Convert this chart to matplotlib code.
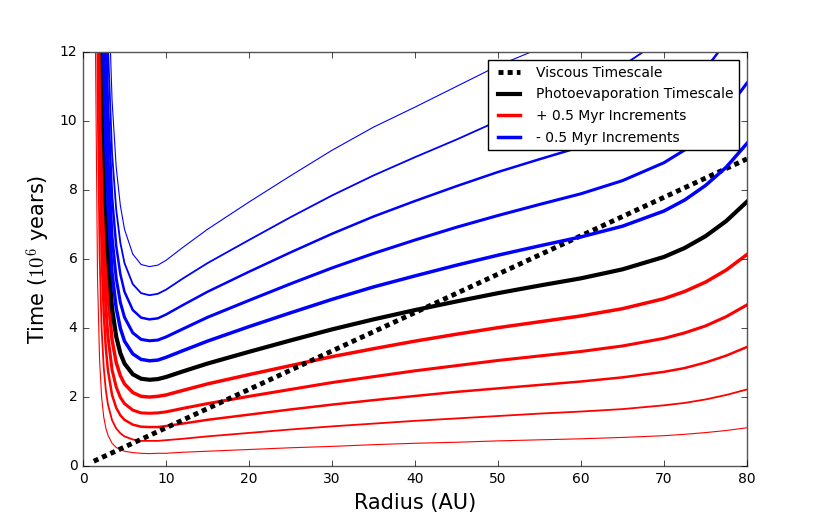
import numpy as np
import matplotlib
matplotlib.use('Agg')
import matplotlib.pyplot as plt

plt.style.use('classic')
plt.rcParams['figure.facecolor'] = 'white'
plt.rcParams['mathtext.fontset'] = 'cm'

# ---- data ----
radius = [1.25, 1.5, 1.75, 2.0, 2.25, 2.5, 2.75, 3.0, 3.5, 4, 4.5, 5, 6, 7, 8, 9, 10,
          12, 15, 20, 25, 30, 35, 40, 45, 50, 55, 60, 65, 70, 72.5, 75, 77.5, 80]

# photoevaporation timescale (Myr)
t_photo = [269, 84, 37.5, 21.0, 13.6, 9.82, 7.59, 6.18, 4.58, 3.75, 3.27, 2.97, 2.66, 2.53, 2.50, 2.52, 2.58,
           2.74, 2.97, 3.31, 3.64, 3.96, 4.25, 4.52, 4.77, 5.01, 5.23, 5.44, 5.70, 6.06, 6.32, 6.66, 7.10, 7.66]

# + 0.5 Myr increments (red), from the black curve outwards
t_red1 = [215, 67, 30, 16.8, 10.9, 7.86, 6.07, 4.94, 3.66, 3.00, 2.62, 2.38, 2.13, 2.02, 2.00, 2.02, 2.06,
          2.19, 2.38, 2.65, 2.91, 3.17, 3.40, 3.62, 3.82, 4.01, 4.18, 4.35, 4.56, 4.85, 5.06, 5.33, 5.68, 6.13]
t_red2 = [164, 51, 22.9, 12.8, 8.30, 5.99, 4.63, 3.77, 2.79, 2.29, 1.99, 1.81, 1.62, 1.54, 1.53, 1.54, 1.57,
          1.67, 1.81, 2.02, 2.22, 2.42, 2.59, 2.76, 2.91, 3.06, 3.19, 3.32, 3.48, 3.70, 3.86, 4.06, 4.33, 4.67]
t_red3 = [121, 37.8, 16.9, 9.45, 6.12, 4.42, 3.42, 2.78, 2.06, 1.69, 1.47, 1.34, 1.20, 1.14, 1.13, 1.13, 1.16,
          1.23, 1.34, 1.49, 1.64, 1.78, 1.91, 2.03, 2.15, 2.25, 2.35, 2.45, 2.57, 2.73, 2.84, 3.00, 3.20, 3.45]
t_red4 = [78, 24.4, 10.9, 6.09, 3.94, 2.85, 2.20, 1.79, 1.33, 1.09, 0.95, 0.86, 0.77, 0.73, 0.73, 0.73, 0.75,
          0.79, 0.86, 0.96, 1.06, 1.15, 1.23, 1.31, 1.38, 1.45, 1.52, 1.58, 1.65, 1.76, 1.83, 1.93, 2.06, 2.22]
t_red5 = [39, 12.2, 5.44, 3.05, 1.97, 1.42, 1.10, 0.90, 0.66, 0.54, 0.47, 0.43, 0.39, 0.37, 0.36, 0.37, 0.37,
          0.40, 0.43, 0.48, 0.53, 0.57, 0.62, 0.66, 0.69, 0.73, 0.76, 0.79, 0.83, 0.88, 0.92, 0.97, 1.03, 1.11]

# - 0.5 Myr increments (blue)
t_blue1 = [328, 102, 45.8, 25.6, 16.6, 12.0, 9.26, 7.54, 5.59, 4.58, 3.99, 3.62, 3.25, 3.09, 3.05, 3.07, 3.15,
           3.34, 3.62, 4.04, 4.44, 4.83, 5.19, 5.51, 5.82, 6.11, 6.38, 6.64, 6.95, 7.39, 7.71, 8.13, 8.66, 9.35]
t_blue2 = [390, 122, 54.4, 30.5, 19.7, 14.2, 11.0, 8.96, 6.64, 5.44, 4.74, 4.31, 3.86, 3.67, 3.63, 3.65, 3.74,
           3.97, 4.31, 4.80, 5.28, 5.74, 6.16, 6.55, 6.92, 7.26, 7.58, 7.89, 8.27, 8.79, 9.16, 9.66, 10.3, 11.1]
t_blue3 = [457, 143, 63.8, 35.7, 23.1, 16.7, 12.9, 10.5, 7.79, 6.38, 5.56, 5.05, 4.52, 4.30, 4.25, 4.28, 4.39,
           4.66, 5.05, 5.63, 6.19, 6.73, 7.23, 7.68, 8.11, 8.52, 8.89, 9.25, 9.72, 10.4, 10.8, 11.5, 12.3, 13.2]
t_blue4 = [533, 166, 74.3, 41.6, 26.9, 19.4, 15.0, 12.2, 9.07, 7.43, 6.47, 5.88, 5.27, 5.01, 4.95, 4.99, 5.11,
           5.43, 5.88, 6.55, 7.21, 7.84, 8.42, 8.95, 9.46, 10.0, 10.5, 11.0, 11.6, 12.4, 12.9, 13.5, 14.4, 15.5]
t_blue5 = [621, 194, 86.6, 48.5, 31.4, 22.7, 17.5, 14.3, 10.6, 8.66, 7.55, 6.86, 6.14, 5.84, 5.78, 5.82, 5.96,
           6.33, 6.86, 7.65, 8.41, 9.15, 9.82, 10.4, 11.0, 11.6, 12.1, 12.6, 13.2, 14.0, 14.6, 15.4, 16.4, 17.7]

# viscous timescale (straight line)
visc_r = [1.3, 80]
visc_t = [0.14, 8.9]

reds = [t_red1, t_red2, t_red3, t_red4, t_red5]
blues = [t_blue1, t_blue2, t_blue3, t_blue4, t_blue5]
widths = [2.5, 2.2, 1.8, 1.3, 0.8]

# ---- plot ----
fig = plt.figure(figsize=(8.3, 5.19), dpi=100)
ax = fig.add_axes([0.1, 0.102, 0.8, 0.798])

for k, tr in enumerate(reds):
    ax.plot(radius, tr, color='red', lw=widths[k],
            label='+ 0.5 Myr Increments' if k == 0 else None)
ax.plot(radius, t_photo, color='black', lw=3, label='Photoevaporation Timescale')
ax.plot(visc_r, visc_t, color='black', lw=3.5, ls=(0, (3.6, 3.0)),
        dash_capstyle='butt', label='Viscous Timescale')
for k, tb in enumerate(blues):
    ax.plot(radius, tb, color='blue', lw=widths[k],
            label='- 0.5 Myr Increments' if k == 0 else None)

ax.set_xlim(0, 80)
ax.set_ylim(0, 12)
ax.set_xticks(range(0, 81, 10))
ax.set_yticks(range(0, 13, 2))
ax.tick_params(labelsize=10)
ax.set_xlabel('Radius (AU)', fontsize=15)
ax.set_ylabel('Time ($10^6$ years)', fontsize=15)
for s in ax.spines.values():
    s.set_edgecolor('#555555')

h, l = ax.get_legend_handles_labels()
order = [l.index('Viscous Timescale'), l.index('Photoevaporation Timescale'),
         l.index('+ 0.5 Myr Increments'), l.index('- 0.5 Myr Increments')]
ax.legend([h[i] for i in order], [l[i] for i in order], loc='upper right',
          fontsize=10, handlelength=2.2, numpoints=2, borderaxespad=0.6, labelspacing=0.55)

fig.savefig('out.png', dpi=100)
